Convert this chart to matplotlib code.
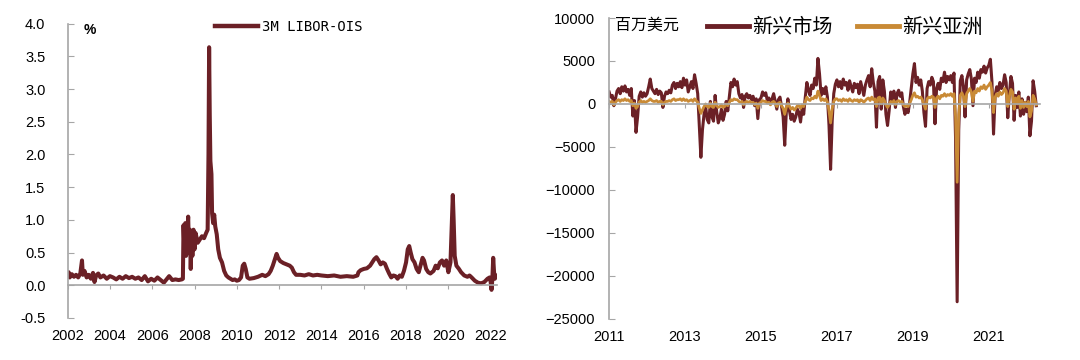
import numpy as np
import matplotlib
matplotlib.use("Agg")
import matplotlib.pyplot as plt

plt.rcParams['font.family'] = ['Liberation Sans', 'Noto Sans CJK SC', 'DejaVu Sans']
plt.rcParams['axes.unicode_minus'] = True

MAROON = "#6b2026"
ORANGE = "#c98a35"
GREY = "#a6a6a6"

# ---- left panel: 3M LIBOR-OIS (%), decimal years ----
libor_t = [
    2002.00, 2002.05, 2002.10, 2002.20, 2002.30, 2002.40, 2002.50, 2002.60, 2002.68, 2002.72,
    2002.80, 2002.90, 2003.00, 2003.10, 2003.20, 2003.27, 2003.35, 2003.45, 2003.55, 2003.70,
    2003.85, 2004.00, 2004.15, 2004.30, 2004.45, 2004.60, 2004.75, 2004.90, 2005.05, 2005.20,
    2005.35, 2005.50, 2005.65, 2005.80, 2005.95, 2006.10, 2006.25, 2006.40, 2006.55, 2006.70,
    2006.80, 2006.95, 2007.10, 2007.25, 2007.40, 2007.45, 2007.48, 2007.52, 2007.56, 2007.60,
    2007.65, 2007.70, 2007.74, 2007.78, 2007.82, 2007.86, 2007.90, 2007.95, 2008.00, 2008.05,
    2008.15, 2008.25, 2008.35, 2008.45, 2008.55, 2008.62, 2008.66, 2008.69, 2008.72, 2008.75,
    2008.80, 2008.83, 2008.88, 2008.93, 2008.98, 2009.05, 2009.12, 2009.20, 2009.30, 2009.40,
    2009.50, 2009.60, 2009.70, 2009.80, 2009.90, 2010.00, 2010.10, 2010.20, 2010.28, 2010.35,
    2010.42, 2010.50, 2010.60, 2010.80, 2011.00, 2011.20, 2011.35, 2011.50, 2011.60, 2011.70,
    2011.80, 2011.88, 2011.95, 2012.05, 2012.20, 2012.35, 2012.50, 2012.60, 2012.70, 2012.80,
    2013.00, 2013.20, 2013.40, 2013.60, 2013.80, 2014.00, 2014.30, 2014.60, 2014.90, 2015.20,
    2015.50, 2015.70, 2015.75, 2015.85, 2016.00, 2016.15, 2016.30, 2016.40, 2016.50, 2016.60,
    2016.70, 2016.80, 2016.90, 2017.00, 2017.10, 2017.20, 2017.30, 2017.40, 2017.50, 2017.60,
    2017.70, 2017.80, 2017.90, 2018.00, 2018.08, 2018.15, 2018.22, 2018.30, 2018.40, 2018.50,
    2018.60, 2018.70, 2018.78, 2018.85, 2018.95, 2019.05, 2019.15, 2019.30, 2019.40, 2019.50,
    2019.60, 2019.70, 2019.80, 2019.90, 2020.00, 2020.10, 2020.17, 2020.21, 2020.25, 2020.30,
    2020.38, 2020.50, 2020.60, 2020.75, 2020.90, 2021.00, 2021.10, 2021.25, 2021.40, 2021.55,
    2021.70, 2021.85, 2021.95, 2022.00, 2022.04, 2022.08, 2022.12, 2022.16, 2022.20, 2022.25,
]
libor_v = [
    0.15, 0.20, 0.12, 0.17, 0.13, 0.16, 0.12, 0.18, 0.38, 0.16,
    0.22, 0.12, 0.16, 0.10, 0.19, 0.05, 0.15, 0.18, 0.12, 0.15,
    0.10, 0.14, 0.12, 0.09, 0.13, 0.10, 0.14, 0.11, 0.13, 0.10,
    0.12, 0.08, 0.14, 0.06, 0.10, 0.07, 0.12, 0.08, 0.04, 0.10,
    0.14, 0.08, 0.09, 0.08, 0.09, 0.10, 0.92, 0.55, 0.95, 0.45,
    0.75, 1.05, 0.50, 0.85, 0.25, 0.70, 0.45, 0.85, 0.55, 0.80,
    0.65, 0.70, 0.75, 0.72, 0.80, 0.85, 2.00, 3.64, 2.60, 1.90,
    1.70, 1.10, 0.95, 1.08, 0.90, 0.78, 0.55, 0.42, 0.35, 0.22,
    0.15, 0.12, 0.10, 0.08, 0.09, 0.07, 0.08, 0.12, 0.30, 0.33,
    0.25, 0.12, 0.10, 0.11, 0.13, 0.16, 0.14, 0.17, 0.22, 0.30,
    0.40, 0.48, 0.42, 0.37, 0.34, 0.32, 0.30, 0.27, 0.20, 0.16,
    0.16, 0.15, 0.17, 0.15, 0.16, 0.15, 0.14, 0.15, 0.13, 0.14,
    0.13, 0.15, 0.20, 0.23, 0.25, 0.26, 0.30, 0.35, 0.40, 0.43,
    0.38, 0.32, 0.35, 0.33, 0.25, 0.18, 0.12, 0.15, 0.14, 0.10,
    0.15, 0.13, 0.22, 0.35, 0.55, 0.60, 0.50, 0.40, 0.35, 0.25,
    0.20, 0.32, 0.42, 0.38, 0.25, 0.20, 0.18, 0.22, 0.30, 0.26,
    0.35, 0.38, 0.30, 0.38, 0.20, 0.35, 1.00, 1.38, 1.00, 0.45,
    0.30, 0.25, 0.20, 0.15, 0.13, 0.15, 0.12, 0.07, 0.04, 0.03,
    0.05, 0.10, 0.12, 0.05, -0.07, 0.10, 0.42, 0.20, 0.10, 0.15,
]
left_xticks = list(range(2002, 2023, 2))
left_yticks = [-0.5, 0.0, 0.5, 1.0, 1.5, 2.0, 2.5, 3.0, 3.5, 4.0]

# ---- right panel: fund flows (million USD), semi-monthly from 2011 ----
em_2011 = [1400, 800, 1000, -200, 600, 1500, 1800, 1200, 2000, 1500, 2100, 1400,
           1700, 1000, 1800, -1400, 400, -3300, -1500, 900, 1400, 800, 1300, 900]
em_2012 = [1200, 2000, 2900, 1800, 1500, 1200, 1700, 1100, 1500, 1300, -400, 900,
           1400, 1200, 1600, 1300, 2200, 2500, 1800, 2400, 2000, 2600, 1900, 3000]
em_2013 = [2200, 2800, 1400, 2000, 2600, 1800, 3400, 2400, 1200, -2500, -6200, -3000,
           -1200, -300, -1800, -2200, 300, -1500, -2000, 1000, -900, -2200, -1600, -600]
em_2014 = [-1900, -1200, 300, -800, 800, 2500, 2000, 2900, 2200, 2600, 1200, 700,
           1100, -400, 900, 1200, 700, 1000, 500, 900, -200, 600, -1700, 500]
em_2015 = [700, 1400, 1000, 1300, 400, 700, 0, 600, 1200, 300, -600, 500,
           800, -300, -1500, -4800, -1000, 600, -800, -1800, -1200, -2000, -1500, -600]
em_2016 = [-1000, -2100, -500, -1200, 800, 2500, 1600, 1000, 2200, 1800, 3000, 2200,
           5300, 3500, 1000, 1800, 1200, 2000, 800, -2500, -7600, -2000, 1200, 2300]
em_2017 = [2800, 2000, 2600, 1800, 2900, 2200, 2500, 1600, 2700, 2000, 1400, 2400,
           1900, 2300, 1200, 2600, 1800, 1000, 2200, 2800, 3300, 2000, 4100, 2500]
em_2018 = [1500, -2700, 2600, 3200, -600, 2800, 1500, -1200, -2500, -800, 1400, 500,
           1500, -400, 1200, 1600, 900, 1300, -300, -1200, -600, -1000, 200, 1800]
em_2019 = [3500, 4700, 2500, 3100, 2200, 2800, 1500, -1000, -2600, 1800, 2600, 2200,
           3100, 2600, -2300, 1800, 2400, 1700, 3000, 2600, 3700, 2500, 3200, 2800]
em_2020 = [3300, 2500, 3600, -4000, -23000, -3000, 2700, 3300, 2000, -1500, 2800, 3500,
           4000, 2900, -200, 3000, 2500, 3700, 3000, 4000, 3700, 4400, 3600, 4200]
em_2021 = [4500, 5200, 2600, -3500, 1000, 2000, 1500, 2500, 1800, 2200, 3400, 2500,
           -1600, 1200, 3200, 2400, -1900, 1000, -400, 1400, -1400, 600, -1200, 200]
em_2022 = [-900, 800, -3700, -2000, 2700, 1500, -200]

asia_2011 = [300, 200, 300, -100, 200, 400, 500, 300, 500, 400, 600, 400,
             500, 300, 400, -200, 100, -500, -300, 200, 400, 200, 300, 200]
asia_2012 = [300, 400, 600, 400, 300, 300, 400, 200, 300, 300, -100, 200,
             300, 300, 400, 300, 500, 600, 400, 500, 500, 600, 400, 600]
asia_2013 = [400, 500, 300, 400, 500, 300, 600, 400, 200, -500, -1100, -700,
             -300, 0, -300, -400, 100, -300, -400, 200, -200, -400, -300, -100]
asia_2014 = [-400, -300, 0, -200, 200, 500, 400, 600, 500, 500, 300, 200,
             300, -100, 200, 300, 200, 300, 100, 200, -100, 100, -500, 100]
asia_2015 = [200, 400, 300, 300, 100, 200, -100, 200, 300, 100, -300, 100,
             200, -200, -500, -1200, -400, 100, -300, -600, -400, -700, -500, -200]
asia_2016 = [-200, -500, -100, -300, 300, 800, 500, 400, 700, 600, 900, 700,
             1500, 1000, 400, 600, 400, 600, 200, -800, -2200, -600, 300, 600]
asia_2017 = [600, 400, 500, 300, 600, 400, 500, 300, 600, 400, 300, 500,
             400, 500, 200, 500, 400, 200, 400, 600, 700, 400, 800, 500]
asia_2018 = [600, -300, 700, 800, 0, 700, 400, -100, -400, -100, 300, 100,
             400, -100, 300, 400, 200, 300, -100, -300, -200, -300, 100, 500]
asia_2019 = [1000, 1300, 800, 900, 700, 800, 500, -100, -600, 600, 800, 700,
             900, 800, -400, 700, 900, 600, 1000, 900, 1200, 900, 1100, 1000]
asia_2020 = [1200, 900, 1200, -1500, -9100, -1200, 1000, 1300, 900, -300, 1200, 1500,
             1800, 1400, 300, 1500, 1300, 1800, 1500, 2000, 1800, 2200, 1700, 2000]
asia_2021 = [2200, 2500, 1500, -1000, 800, 1200, 900, 1400, 1100, 1300, 1800, 1500,
             -300, 900, 1700, 1400, -600, 700, 0, 900, -500, 400, -400, 200]
asia_2022 = [-300, 300, -1500, -800, 1000, 600, -100]

em_flow = (em_2011 + em_2012 + em_2013 + em_2014 + em_2015 + em_2016 + em_2017
           + em_2018 + em_2019 + em_2020 + em_2021 + em_2022)
asia_flow = (asia_2011 + asia_2012 + asia_2013 + asia_2014 + asia_2015 + asia_2016
             + asia_2017 + asia_2018 + asia_2019 + asia_2020 + asia_2021 + asia_2022)
flow_t = 2011 + np.arange(len(em_flow)) / 24.0
right_xticks = list(range(2011, 2023, 2))
right_yticks = list(range(-25000, 10001, 5000))


def style_axes(ax, ymin, ymax, xticks, ypad):
    ax.set_ylim(ymin, ymax)
    for s in ("top", "right"):
        ax.spines[s].set_visible(False)
    ax.spines["left"].set_color(GREY)
    ax.spines["left"].set_linewidth(1.2)
    ax.tick_params(axis="y", direction="in", length=4, color=GREY, pad=ypad,
                   labelsize=10.5)
    # x axis line sits at zero, its ticks hang down, no labels there
    ax.spines["bottom"].set_position(("data", 0))
    ax.spines["bottom"].set_color(GREY)
    ax.spines["bottom"].set_linewidth(1.2)
    ax.set_xticks(xticks)
    ax.tick_params(axis="x", direction="out", length=3, color=GREY,
                   labelbottom=False)
    # year labels at the foot of the panel
    lab = ax.secondary_xaxis("bottom")
    lab.set_xticks(xticks)
    lab.set_xticklabels([str(x) for x in xticks])
    lab.tick_params(axis="x", length=0, pad=8, labelsize=10.5)
    lab.spines["bottom"].set_visible(False)


fig = plt.figure(figsize=(10.8, 3.6), dpi=100)

# left panel
ax1 = fig.add_axes([0.0626, 0.1167, 0.3976, 0.8175])
ax1.plot(libor_t, libor_v, color=MAROON, lw=2.9, solid_joinstyle="round",
         label="3M LIBOR-OIS")
ax1.set_xlim(2002, 2022.3)
ax1.set_yticks(left_yticks)
ax1.set_yticklabels([f"{v:.1f}" for v in left_yticks])
style_axes(ax1, -0.5, 4.0, left_xticks, 16)
ax1.text(0.052, 0.979, "%", transform=ax1.transAxes, ha="center", va="center",
         fontsize=10, fontweight="bold")
leg1 = ax1.legend(loc="center left", bbox_to_anchor=(0.344, 0.989), frameon=False,
                  borderaxespad=0, borderpad=0, handlelength=3.1, handletextpad=0.25,
                  prop={"family": "DejaVu Sans Mono", "size": 10})
for ln in leg1.get_lines():
    ln.set_linewidth(3.2)

# right panel
ax2 = fig.add_axes([0.564, 0.114, 0.399, 0.836])
ax2.plot(flow_t, em_flow, color=MAROON, lw=2.2, label="新兴市场")
ax2.plot(flow_t, asia_flow, color=ORANGE, lw=2.0, label="新兴亚洲")
ax2.set_xlim(2011, 2022.35)
ax2.set_yticks(right_yticks)
style_axes(ax2, -25000, 10000, right_xticks, 10)
ax2.text(0.089, 0.977, "百万美元", transform=ax2.transAxes, ha="center", va="center",
         fontsize=11.5, family=["Noto Sans CJK SC"])
leg2 = ax2.legend(loc="center left", bbox_to_anchor=(0.227, 0.968), ncol=2,
                  frameon=False, borderaxespad=0, borderpad=0, handlelength=2.1,
                  handletextpad=0.15, columnspacing=1.2,
                  prop={"family": "Noto Sans CJK SC", "size": 14.5})
for ln in leg2.get_lines():
    ln.set_linewidth(3.5)

fig.savefig("out.png", dpi=100)
